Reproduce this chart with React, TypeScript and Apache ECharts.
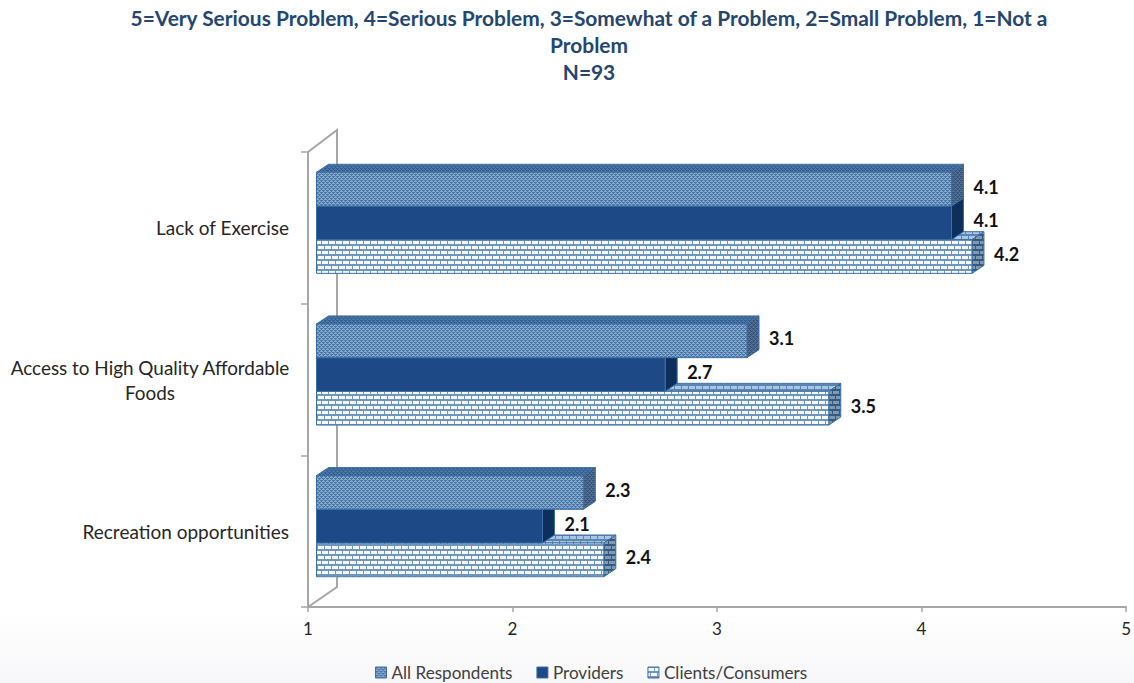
import React, { useEffect, useRef } from "react";
import * as echarts from "echarts";

const categories = ["Lack of Exercise", "Access to High Quality Affordable\nFoods", "Recreation opportunities"];
const allRespondents = [4.1, 3.1, 2.3];
const providers = [4.1, 2.7, 2.1];
const clients = [4.2, 3.5, 2.4];
const seriesNames = ["All Respondents", "Providers", "Clients/Consumers"];
const titleText = "5=Very Serious Problem, 4=Serious Problem, 3=Somewhat of a Problem, 2=Small Problem, 1=Not a\nProblem\nN=93";
const FONT = "Lato";

function dots(bg: string, dot: string) {
  const c = document.createElement("canvas");
  c.width = 4; c.height = 4;
  const g = c.getContext("2d")!;
  g.fillStyle = bg; g.fillRect(0, 0, 4, 4);
  g.fillStyle = dot;
  g.fillRect(0, 0, 3, 1); g.fillRect(2, 2, 2, 1); g.fillRect(0, 2, 1, 1);
  g.fillRect(1, 1, 1, 1); g.fillRect(3, 3, 1, 1);
  return { image: c.toDataURL(), repeat: "repeat", imageWidth: 4, imageHeight: 4 };
}
function bricks(brick: string, mortar: string) {
  const c = document.createElement("canvas");
  c.width = 14; c.height = 10;
  const g = c.getContext("2d")!;
  g.fillStyle = mortar; g.fillRect(0, 0, 14, 10);
  g.fillStyle = brick;
  g.fillRect(0, 1, 6, 3); g.fillRect(7, 1, 6, 3);
  g.fillRect(3, 6, 6, 3); g.fillRect(10, 6, 4, 3); g.fillRect(0, 6, 2, 3);
  return { image: c.toDataURL(), repeat: "repeat", imageWidth: 14, imageHeight: 10 };
}

export default function App() {
  const ref = useRef<HTMLDivElement>(null);
  useEffect(() => {
    document.body.style.margin = "0";
    const chart = echarts.init(ref.current!, undefined, { renderer: "svg" });

    const skins = [
      { front: dots("#86a9d0", "#4a76a6"), top: dots("#4f76a8", "#34608f"), side: dots("#566f8e", "#33557f"), stroke: "#3d6fa6" },
      { front: "#1d4a86", top: "#1d4a86", side: "#0c2f5c", stroke: "#3d6fa6" },
      { front: bricks("#f6fafd", "#6f96be"), top: bricks("#a9c6e2", "#5b86b3"), side: bricks("#7f99b5", "#33597f"), stroke: "#3d6fa6" },
    ];

    const BAR_H = 33.7;
    const DX = 12, DY = 8, SHIFT = 9.5;

    const makeSeries = (i: number, values: number[]) => ({
      type: "custom",
      name: seriesNames[i],
      z: 5 - i,
      clip: false,
      itemStyle: { color: skins[i].front },
      encode: { x: 0, y: 1 },
      data: values.map((v, k) => [v, k]),
      renderItem: (_p: any, api: any) => {
        const v = api.value(0), k = api.value(1);
        const end = api.coord([v, k]);
        const start = api.coord([1, k]);
        const x0 = start[0] + SHIFT - 1, x1 = end[0] + SHIFT;
        const yc = end[1] - 5 + (i - 1) * BAR_H;
        const y0 = yc - BAR_H / 2, y1 = yc + BAR_H / 2;
        const s = skins[i];
        const line = { stroke: s.stroke, lineWidth: 1 };
        return {
          type: "group",
          children: [
            { type: "polygon", shape: { points: [[x0, y0], [x1, y0], [x1 + DX, y0 - DY], [x0 + DX, y0 - DY]] }, style: { fill: s.top, ...line } },
            { type: "polygon", shape: { points: [[x1, y0], [x1 + DX, y0 - DY], [x1 + DX, y1 - DY], [x1, y1]] }, style: { fill: s.side, ...line } },
            { type: "rect", shape: { x: x0, y: y0, width: x1 - x0, height: BAR_H }, style: { fill: s.front, ...line } },
            { type: "text", style: { text: v.toFixed(1), x: x1 + DX + 10, y: yc - 2.5, align: "left", verticalAlign: "middle", fill: "#111", font: `bold 18px ${FONT}` } },
          ],
        };
      },
    });

    chart.setOption({
      animation: false,
      backgroundColor: "#fff",
      title: {
        text: titleText,
        left: 584,
        top: -1,
        textAlign: "center",
        textStyle: { fontFamily: FONT, fontWeight: "bold", fontSize: 20.9, lineHeight: 27, color: "#24466f" },
      },
      grid: { left: 308, top: 152, width: 820, height: 455, containLabel: false },
      xAxis: {
        type: "value", min: 1, max: 5, interval: 1,
        splitLine: { show: false },
        axisLine: { show: true, lineStyle: { color: "#a6a6a6", width: 2 } },
        axisTick: { show: true, length: 5, lineStyle: { color: "#a6a6a6", width: 1.5 } },
        axisLabel: { margin: 13, fontFamily: FONT, fontSize: 17, color: "#262626" },
      },
      yAxis: {
        type: "category", inverse: true, data: categories,
        axisLine: { show: true, lineStyle: { color: "#a6a6a6", width: 2 } },
        axisTick: { show: true, length: 7, lineStyle: { color: "#a6a6a6", width: 1.5 } },
        axisLabel: {
          margin: 19, fontFamily: FONT, fontSize: 19, color: "#262626", lineHeight: 25,
          formatter: (t: string) => t.includes("\n") ? t.split("\n").map((l) => `{c|${l}}`).join("\n") : t,
          rich: { c: { width: 278, align: "center", fontFamily: FONT, fontSize: 18.9, lineHeight: 25, color: "#262626" } },
        },
      },
      legend: {
        left: 370, top: 659, itemWidth: 11, itemHeight: 11, itemGap: 24, icon: "rect",
        selectedMode: false,
        textStyle: { fontFamily: FONT, fontSize: 17.1, color: "#404040" },
        itemStyle: { borderColor: "#3d6fa6", borderWidth: 1 },
        data: seriesNames.map((n, i) => ({ name: n, itemStyle: { color: skins[i].front } })),
      },
      graphic: [
        { type: "rect", z: -1, silent: true, shape: { x: 0, y: 615, width: 1134, height: 68 }, style: { fill: new echarts.graphic.LinearGradient(0, 0, 0, 1, [{ offset: 0, color: "#ffffff" }, { offset: 1, color: "#f7f7f9" }]) } },
        { type: "polyline", z: 0, silent: true, shape: { points: [[308, 152], [337, 130], [337, 587], [308, 607]] }, style: { stroke: "#a6a6a6", lineWidth: 2, fill: "none" } },
      ],
      series: [makeSeries(0, allRespondents), makeSeries(1, providers), makeSeries(2, clients)],
    });
    return () => chart.dispose();
  }, []);
  return <div ref={ref} style={{ width: 1134, height: 683 }} />;
}
